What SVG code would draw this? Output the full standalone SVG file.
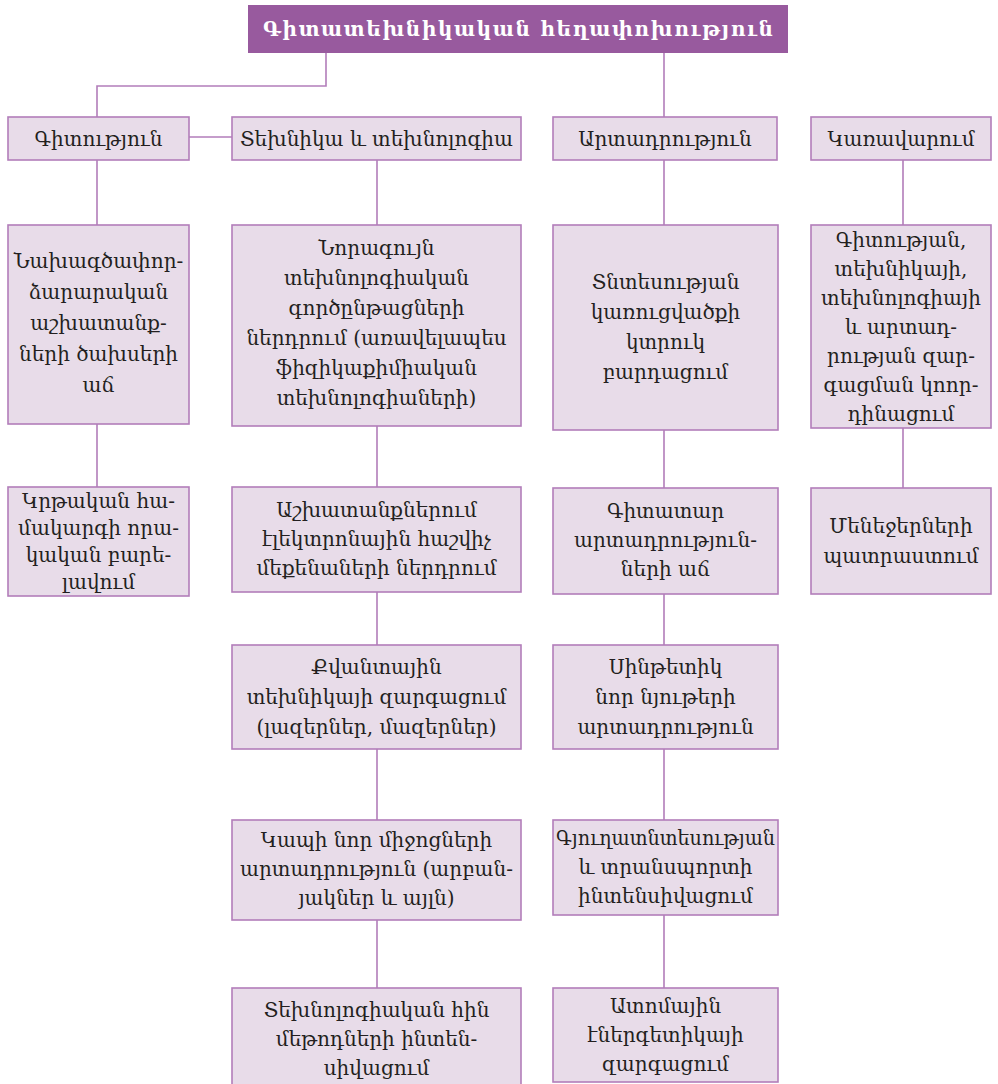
<svg xmlns="http://www.w3.org/2000/svg" width="998" height="1084" viewBox="0 0 998 1084">
  <style>
    .box { fill: #E8DCE9; stroke: #B27DBA; stroke-width: 1.6; }
    .title-box { fill: #985A9E; }
    .conn { fill: none; stroke: #B27DBA; stroke-width: 1.6; }
    text { font-family: "DejaVu Serif", "DejaVu Sans", serif; font-size: 20px; fill: #231F20; text-anchor: middle; }
    .title { fill: #FFFFFF; font-size: 20px; font-weight: bold; }
  </style>

  <rect width="998" height="1084" fill="#FFFFFF"/>

  <!-- connectors -->
  <g id="connectors">
    <path class="conn" d="M326,53 V86 H97 V117"/>
    <path class="conn" d="M664,53 V117"/>
    <path class="conn" d="M189,137 H232"/>
    <path class="conn" d="M97,160 V225 M97,424 V487"/>
    <path class="conn" d="M377,160 V225 M377,426 V487 M377,592 V645 M377,749 V820 M377,920 V988"/>
    <path class="conn" d="M664,160 V225 M664,430 V488 M664,594 V645 M664,749 V820 M664,915 V988"/>
    <path class="conn" d="M903,160 V225 M903,428 V488"/>
  </g>

  <!-- title -->
  <g id="title">
    <rect class="title-box" x="248" y="5" width="540" height="48"/>
    <text class="title" x="518" y="36" textLength="510" lengthAdjust="spacing">Գիտատեխնիկական հեղափոխություն</text>
  </g>

  <!-- top level -->
  <g id="science">
    <rect class="box" x="8" y="117" width="181" height="43"/>
    <text x="98.5" y="145.5">Գիտություն</text>
  </g>
  <g id="technics">
    <rect class="box" x="232" y="117" width="289" height="43"/>
    <text x="376.5" y="145.5">Տեխնիկա և տեխնոլոգիա</text>
  </g>
  <g id="production">
    <rect class="box" x="553" y="117" width="224" height="43"/>
    <text x="665" y="145.5">Արտադրություն</text>
  </g>
  <g id="management">
    <rect class="box" x="811" y="117" width="180" height="43"/>
    <text x="901" y="145.5">Կառավարում</text>
  </g>

  <!-- science column -->
  <g id="science-1">
    <rect class="box" x="8" y="225" width="181" height="199"/>
    <text x="98.5" y="268">Նախագծափոր-</text>
    <text x="98.5" y="299">ձարարական</text>
    <text x="98.5" y="330">աշխատանք-</text>
    <text x="98.5" y="361">ների ծախսերի</text>
    <text x="98.5" y="392">աճ</text>
  </g>
  <g id="science-2">
    <rect class="box" x="8" y="487" width="181" height="109"/>
    <text x="98.5" y="508">Կրթական հա-</text>
    <text x="98.5" y="535">մակարգի որա-</text>
    <text x="98.5" y="562">կական բարե-</text>
    <text x="98.5" y="589">լավում</text>
  </g>

  <!-- technics column -->
  <g id="technics-1">
    <rect class="box" x="232" y="225" width="289" height="201"/>
    <text x="376.5" y="255">Նորագույն</text>
    <text x="376.5" y="285">տեխնոլոգիական</text>
    <text x="376.5" y="315">գործընթացների</text>
    <text x="376.5" y="345">ներդրում (առավելապես</text>
    <text x="376.5" y="375">ֆիզիկաքիմիական</text>
    <text x="376.5" y="405">տեխնոլոգիաների)</text>
  </g>
  <g id="technics-2">
    <rect class="box" x="232" y="487" width="289" height="105"/>
    <text x="376.5" y="517">Աշխատանքներում</text>
    <text x="376.5" y="546">էլեկտրոնային հաշվիչ</text>
    <text x="376.5" y="575">մեքենաների ներդրում</text>
  </g>
  <g id="technics-3">
    <rect class="box" x="232" y="645" width="289" height="104"/>
    <text x="376.5" y="674">Քվանտային</text>
    <text x="376.5" y="704">տեխնիկայի զարգացում</text>
    <text x="376.5" y="734">(լազերներ, մազերներ)</text>
  </g>
  <g id="technics-4">
    <rect class="box" x="232" y="820" width="289" height="100"/>
    <text x="376.5" y="847">Կապի նոր միջոցների</text>
    <text x="376.5" y="876">արտադրություն (արբան-</text>
    <text x="376.5" y="905">յակներ և այլն)</text>
  </g>
  <g id="technics-5">
    <rect class="box" x="232" y="988" width="289" height="100"/>
    <text x="376.5" y="1017">Տեխնոլոգիական հին</text>
    <text x="376.5" y="1046">մեթոդների ինտեն-</text>
    <text x="376.5" y="1075">սիվացում</text>
  </g>

  <!-- production column -->
  <g id="production-1">
    <rect class="box" x="553" y="225" width="225" height="205"/>
    <text x="665.5" y="289">Տնտեսության</text>
    <text x="665.5" y="319">կառուցվածքի</text>
    <text x="665.5" y="349">կտրուկ</text>
    <text x="665.5" y="379">բարդացում</text>
  </g>
  <g id="production-2">
    <rect class="box" x="553" y="488" width="225" height="106"/>
    <text x="665.5" y="518">Գիտատար</text>
    <text x="665.5" y="547">արտադրություն-</text>
    <text x="665.5" y="576">ների աճ</text>
  </g>
  <g id="production-3">
    <rect class="box" x="553" y="645" width="225" height="104"/>
    <text x="665.5" y="674">Սինթետիկ</text>
    <text x="665.5" y="704">նոր նյութերի</text>
    <text x="665.5" y="734">արտադրություն</text>
  </g>
  <g id="production-4">
    <rect class="box" x="553" y="820" width="225" height="95"/>
    <text x="665.5" y="845" textLength="219" lengthAdjust="spacingAndGlyphs">Գյուղատնտեսության</text>
    <text x="665.5" y="874">և տրանսպորտի</text>
    <text x="665.5" y="903">ինտենսիվացում</text>
  </g>
  <g id="production-5">
    <rect class="box" x="553" y="988" width="225" height="94"/>
    <text x="665.5" y="1013">Ատոմային</text>
    <text x="665.5" y="1042">էներգետիկայի</text>
    <text x="665.5" y="1071">զարգացում</text>
  </g>

  <!-- management column -->
  <g id="management-1">
    <rect class="box" x="811" y="225" width="180" height="203"/>
    <text x="901" y="247">Գիտության,</text>
    <text x="901" y="276">տեխնիկայի,</text>
    <text x="901" y="305">տեխնոլոգիայի</text>
    <text x="901" y="334">և արտադ-</text>
    <text x="901" y="363">րության զար-</text>
    <text x="901" y="392">գացման կոոր-</text>
    <text x="901" y="421">դինացում</text>
  </g>
  <g id="management-2">
    <rect class="box" x="811" y="488" width="180" height="106"/>
    <text x="901" y="533">Մենեջերների</text>
    <text x="901" y="563">պատրաստում</text>
  </g>
</svg>
